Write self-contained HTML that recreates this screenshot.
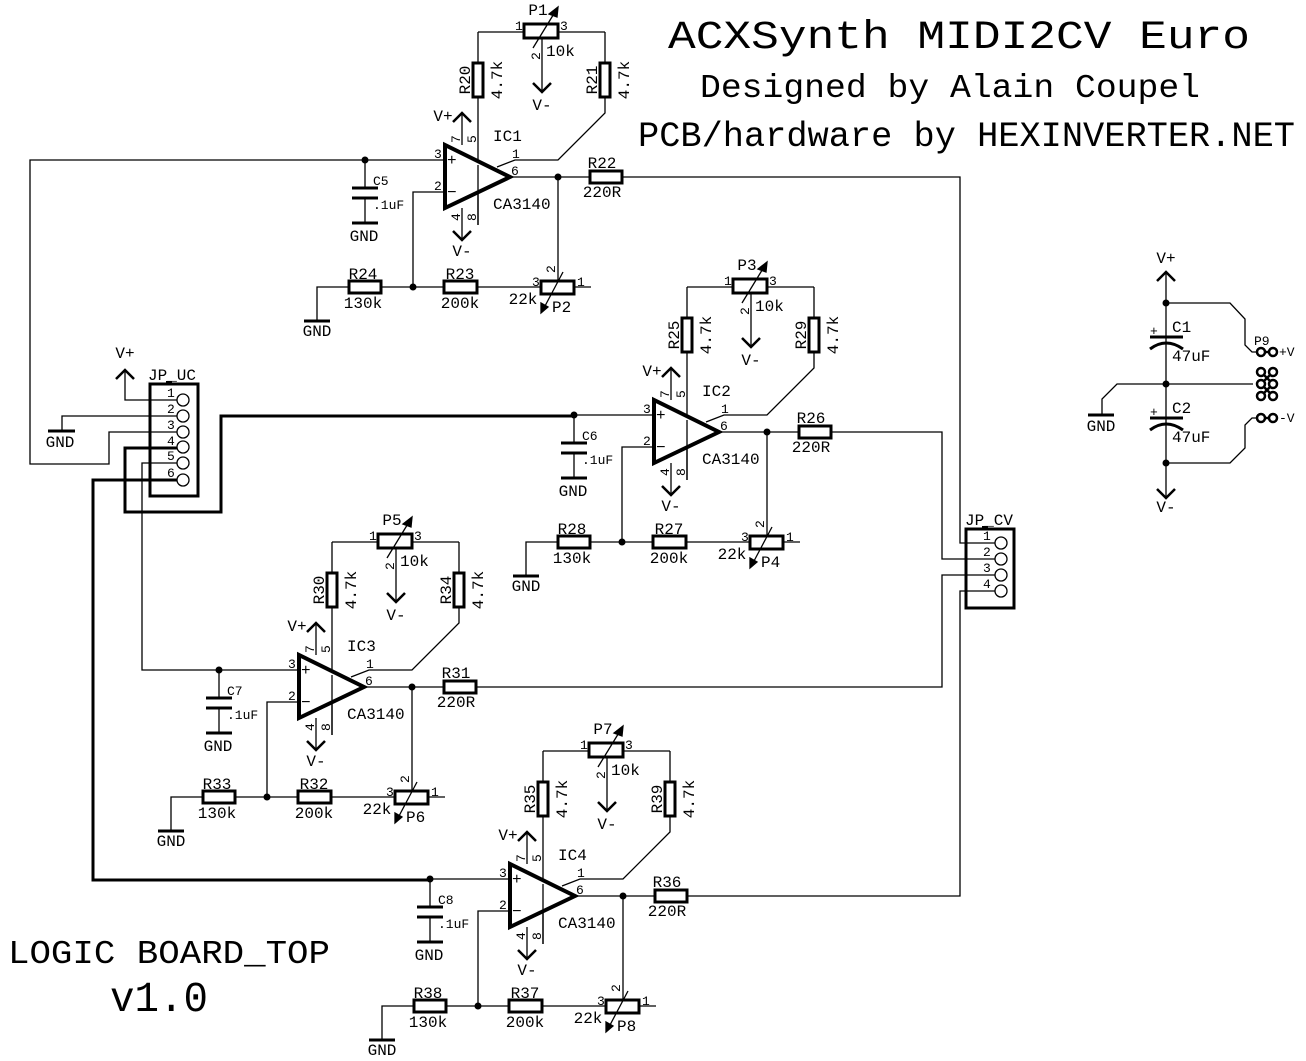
<!DOCTYPE html>
<html><head><meta charset="utf-8"><style>
html,body{margin:0;padding:0;background:#fff;}
svg{display:block;}
text{font-family:"Liberation Mono",monospace;fill:#000;}
.s{font-size:16px;}
.p{font-size:13px;}
.c{text-anchor:middle;}
</style></head><body>
<svg width="1306" height="1061" viewBox="0 0 1306 1061" xmlns="http://www.w3.org/2000/svg">
<defs>
<g id="stage" fill="none" stroke="#000" stroke-width="1.3">
  <line x1="478" y1="32" x2="605" y2="32"/>
  <rect x="524" y="24" width="34" height="14" fill="#fff" stroke-width="3"/>
  <line x1="533" y1="48" x2="555" y2="12"/>
  <polygon points="558,7 549,14 557,17" fill="#000"/>
  <line x1="542" y1="38" x2="542" y2="92"/>
  <polyline points="533,83 542,92 551,83" stroke-width="2.5"/>
  <line x1="478" y1="32" x2="478" y2="225"/>
  <rect x="473" y="63" width="10" height="34" fill="#fff" stroke-width="3"/>
  <polyline points="605,32 605,113 558,160 515,160 497,167"/>
  <rect x="600" y="63" width="10" height="34" fill="#fff" stroke-width="3"/>
  <line x1="462" y1="145" x2="462" y2="113"/>
  <polyline points="453,122 462,113 471,122" stroke-width="2.5"/>
  <line x1="462" y1="208" x2="462" y2="240"/>
  <polyline points="453,231 462,240 471,231" stroke-width="2.5"/>
  <polygon points="445,145 445,208 510,177" stroke-width="4" fill="#fff"/>
  <line x1="478" y1="165" x2="478" y2="225"/>
  <line x1="365" y1="160" x2="445" y2="160"/>
  <polyline points="445,192 413,192 413,287"/>
  <line x1="510" y1="177" x2="590" y2="177"/>
  <rect x="590" y="171" width="32" height="12" stroke-width="3"/>
  <line x1="558" y1="177" x2="558" y2="281"/>
  <polyline points="317,320 317,287 591,287"/>
  <line x1="304" y1="321" x2="330" y2="321" stroke-width="3"/>
  <rect x="349" y="281" width="32" height="12" fill="#fff" stroke-width="3"/>
  <rect x="444" y="281" width="33" height="12" fill="#fff" stroke-width="3"/>
  <rect x="541" y="281" width="33" height="13" fill="#fff" stroke-width="3"/>
  <line x1="563" y1="272" x2="545" y2="306"/>
  <polygon points="541,313 541,303 548,307" fill="#000"/>
  <line x1="365" y1="160" x2="365" y2="187"/>
  <line x1="352" y1="188" x2="378" y2="188" stroke-width="3"/>
  <line x1="352" y1="198" x2="378" y2="198" stroke-width="3"/>
  <line x1="365" y1="198" x2="365" y2="222"/>
  <line x1="352" y1="223" x2="378" y2="223" stroke-width="3"/>
  <circle cx="365" cy="160" r="3.5" fill="#000" stroke="none"/>
  <circle cx="558" cy="177" r="3.5" fill="#000" stroke="none"/>
  <circle cx="413" cy="287" r="3.5" fill="#000" stroke="none"/>
</g>
</defs>

<use href="#stage"/>
<use href="#stage" transform="translate(209,255)"/>
<use href="#stage" transform="translate(-146,510)"/>
<use href="#stage" transform="translate(65,719)"/>

<g>
<text class="s c" x="538" y="15">P1</text>
<text class="p" x="515" y="30">1</text><text class="p" x="560" y="30">3</text>
<text class="p" transform="translate(540,60) rotate(-90)">2</text>
<text class="s" x="546" y="56">10k</text>
<text class="s c" x="542" y="110">V-</text>
<text class="s c" transform="translate(470,80) rotate(-90)">R20</text>
<text class="s c" transform="translate(502,80) rotate(-90)">4.7k</text>
<text class="s c" transform="translate(597,80) rotate(-90)">R21</text>
<text class="s c" transform="translate(629,80) rotate(-90)">4.7k</text>
<text class="s c" x="443" y="121">V+</text>
<text class="p" transform="translate(460,143) rotate(-90)">7</text>
<text class="p" transform="translate(476,143) rotate(-90)">5</text>
<text class="s" x="493" y="141">IC1</text>
<text class="p" x="512" y="158">1</text><text class="p" x="511" y="175">6</text>
<text class="p" x="434" y="158">3</text><text class="p" x="434" y="190">2</text>
<text class="s" x="447" y="165">+</text><text class="s" x="447" y="197">−</text>
<text class="p" transform="translate(460,221) rotate(-90)">4</text>
<text class="p" transform="translate(476,221) rotate(-90)">8</text>
<text class="s c" x="462" y="256">V-</text>
<text class="s" x="493" y="209">CA3140</text>
<text class="p" x="373" y="185">C5</text><text class="p" x="373" y="209">.1uF</text>
<text class="s c" x="364" y="241">GND</text>
<text class="s c" x="602" y="168">R22</text><text class="s c" x="602" y="197">220R</text>
<text class="s c" x="363" y="279">R24</text><text class="s c" x="363" y="308">130k</text>
<text class="s c" x="460" y="279">R23</text><text class="s c" x="460" y="308">200k</text>
<text class="p" transform="translate(555,273) rotate(-90)">2</text>
<text class="p" x="532" y="286">3</text><text class="p" x="577" y="286">1</text>
<text class="s c" x="523" y="304">22k</text><text class="s" x="552" y="312">P2</text>
<text class="s c" x="317" y="336">GND</text>
</g>
<g transform="translate(209,255)">
<text class="s c" x="538" y="15">P3</text>
<text class="p" x="515" y="30">1</text><text class="p" x="560" y="30">3</text>
<text class="p" transform="translate(540,60) rotate(-90)">2</text>
<text class="s" x="546" y="56">10k</text>
<text class="s c" x="542" y="110">V-</text>
<text class="s c" transform="translate(470,80) rotate(-90)">R25</text>
<text class="s c" transform="translate(502,80) rotate(-90)">4.7k</text>
<text class="s c" transform="translate(597,80) rotate(-90)">R29</text>
<text class="s c" transform="translate(629,80) rotate(-90)">4.7k</text>
<text class="s c" x="443" y="121">V+</text>
<text class="p" transform="translate(460,143) rotate(-90)">7</text>
<text class="p" transform="translate(476,143) rotate(-90)">5</text>
<text class="s" x="493" y="141">IC2</text>
<text class="p" x="512" y="158">1</text><text class="p" x="511" y="175">6</text>
<text class="p" x="434" y="158">3</text><text class="p" x="434" y="190">2</text>
<text class="s" x="447" y="165">+</text><text class="s" x="447" y="197">−</text>
<text class="p" transform="translate(460,221) rotate(-90)">4</text>
<text class="p" transform="translate(476,221) rotate(-90)">8</text>
<text class="s c" x="462" y="256">V-</text>
<text class="s" x="493" y="209">CA3140</text>
<text class="p" x="373" y="185">C6</text><text class="p" x="373" y="209">.1uF</text>
<text class="s c" x="364" y="241">GND</text>
<text class="s c" x="602" y="168">R26</text><text class="s c" x="602" y="197">220R</text>
<text class="s c" x="363" y="279">R28</text><text class="s c" x="363" y="308">130k</text>
<text class="s c" x="460" y="279">R27</text><text class="s c" x="460" y="308">200k</text>
<text class="p" transform="translate(555,273) rotate(-90)">2</text>
<text class="p" x="532" y="286">3</text><text class="p" x="577" y="286">1</text>
<text class="s c" x="523" y="304">22k</text><text class="s" x="552" y="312">P4</text>
<text class="s c" x="317" y="336">GND</text>
</g>
<g transform="translate(-146,510)">
<text class="s c" x="538" y="15">P5</text>
<text class="p" x="515" y="30">1</text><text class="p" x="560" y="30">3</text>
<text class="p" transform="translate(540,60) rotate(-90)">2</text>
<text class="s" x="546" y="56">10k</text>
<text class="s c" x="542" y="110">V-</text>
<text class="s c" transform="translate(470,80) rotate(-90)">R30</text>
<text class="s c" transform="translate(502,80) rotate(-90)">4.7k</text>
<text class="s c" transform="translate(597,80) rotate(-90)">R34</text>
<text class="s c" transform="translate(629,80) rotate(-90)">4.7k</text>
<text class="s c" x="443" y="121">V+</text>
<text class="p" transform="translate(460,143) rotate(-90)">7</text>
<text class="p" transform="translate(476,143) rotate(-90)">5</text>
<text class="s" x="493" y="141">IC3</text>
<text class="p" x="512" y="158">1</text><text class="p" x="511" y="175">6</text>
<text class="p" x="434" y="158">3</text><text class="p" x="434" y="190">2</text>
<text class="s" x="447" y="165">+</text><text class="s" x="447" y="197">−</text>
<text class="p" transform="translate(460,221) rotate(-90)">4</text>
<text class="p" transform="translate(476,221) rotate(-90)">8</text>
<text class="s c" x="462" y="256">V-</text>
<text class="s" x="493" y="209">CA3140</text>
<text class="p" x="373" y="185">C7</text><text class="p" x="373" y="209">.1uF</text>
<text class="s c" x="364" y="241">GND</text>
<text class="s c" x="602" y="168">R31</text><text class="s c" x="602" y="197">220R</text>
<text class="s c" x="363" y="279">R33</text><text class="s c" x="363" y="308">130k</text>
<text class="s c" x="460" y="279">R32</text><text class="s c" x="460" y="308">200k</text>
<text class="p" transform="translate(555,273) rotate(-90)">2</text>
<text class="p" x="532" y="286">3</text><text class="p" x="577" y="286">1</text>
<text class="s c" x="523" y="304">22k</text><text class="s" x="552" y="312">P6</text>
<text class="s c" x="317" y="336">GND</text>
</g>
<g transform="translate(65,719)">
<text class="s c" x="538" y="15">P7</text>
<text class="p" x="515" y="30">1</text><text class="p" x="560" y="30">3</text>
<text class="p" transform="translate(540,60) rotate(-90)">2</text>
<text class="s" x="546" y="56">10k</text>
<text class="s c" x="542" y="110">V-</text>
<text class="s c" transform="translate(470,80) rotate(-90)">R35</text>
<text class="s c" transform="translate(502,80) rotate(-90)">4.7k</text>
<text class="s c" transform="translate(597,80) rotate(-90)">R39</text>
<text class="s c" transform="translate(629,80) rotate(-90)">4.7k</text>
<text class="s c" x="443" y="121">V+</text>
<text class="p" transform="translate(460,143) rotate(-90)">7</text>
<text class="p" transform="translate(476,143) rotate(-90)">5</text>
<text class="s" x="493" y="141">IC4</text>
<text class="p" x="512" y="158">1</text><text class="p" x="511" y="175">6</text>
<text class="p" x="434" y="158">3</text><text class="p" x="434" y="190">2</text>
<text class="s" x="447" y="165">+</text><text class="s" x="447" y="197">−</text>
<text class="p" transform="translate(460,221) rotate(-90)">4</text>
<text class="p" transform="translate(476,221) rotate(-90)">8</text>
<text class="s c" x="462" y="256">V-</text>
<text class="s" x="493" y="209">CA3140</text>
<text class="p" x="373" y="185">C8</text><text class="p" x="373" y="209">.1uF</text>
<text class="s c" x="364" y="241">GND</text>
<text class="s c" x="602" y="168">R36</text><text class="s c" x="602" y="197">220R</text>
<text class="s c" x="363" y="279">R38</text><text class="s c" x="363" y="308">130k</text>
<text class="s c" x="460" y="279">R37</text><text class="s c" x="460" y="308">200k</text>
<text class="p" transform="translate(555,273) rotate(-90)">2</text>
<text class="p" x="532" y="286">3</text><text class="p" x="577" y="286">1</text>
<text class="s c" x="523" y="304">22k</text><text class="s" x="552" y="312">P8</text>
<text class="s c" x="317" y="336">GND</text>
</g>

<g fill="none" stroke="#000" stroke-width="1.3">
  <polyline points="365,160 30,160 30,464 109,464 109,432 177,432"/>
  <polyline points="622,177 960,177 960,543 995,543"/>
  <polyline points="831,432 942,432 942,559 995,559"/>
  <polyline points="476,687 942,687 942,575 995,575"/>
  <polyline points="687,896 960,896 960,591 995,591"/>
  <polyline points="177,463 142,463 142,670 219,670"/>
  <polyline points="177,400 125,400 125,370"/>
  <polyline points="116,379 125,370 134,379" stroke-width="2.5"/>
  <polyline points="177,416 62,416 62,430"/>
  <line x1="48" y1="431" x2="75" y2="431" stroke-width="3"/>
</g>
<g fill="none" stroke="#000" stroke-width="3">
  <polyline points="177,448 125,448 125,512 221,512 221,416 574,416"/>
  <polyline points="177,480 93,480 93,880 430,880"/>
</g>
<rect x="150" y="384" width="48" height="112" fill="none" stroke="#000" stroke-width="3"/>
<rect x="166" y="381" width="6" height="3" fill="#000"/>
<g fill="#fff" stroke="#000" stroke-width="1.3">
  <circle cx="183" cy="400" r="6"/><circle cx="183" cy="416" r="6"/><circle cx="183" cy="432" r="6"/>
  <circle cx="183" cy="447" r="6"/><circle cx="183" cy="463" r="6"/><circle cx="183" cy="480" r="6"/>
</g>
<text class="p" x="167" y="397">1</text><text class="p" x="167" y="413">2</text><text class="p" x="167" y="429">3</text>
<text class="p" x="167" y="445">4</text><text class="p" x="167" y="460">5</text><text class="p" x="167" y="477">6</text>
<text class="s" x="148" y="380">JP_UC</text>
<text class="s c" x="125" y="358">V+</text>
<text class="s c" x="60" y="447">GND</text>
<rect x="966" y="529" width="48" height="79" fill="none" stroke="#000" stroke-width="3"/>
<rect x="982" y="526" width="6" height="3" fill="#000"/>
<g fill="#fff" stroke="#000" stroke-width="1.3">
  <circle cx="1001" cy="543" r="6"/><circle cx="1001" cy="559" r="6"/><circle cx="1001" cy="575" r="6"/><circle cx="1001" cy="591" r="6"/>
</g>
<text class="p" x="983" y="540">1</text><text class="p" x="983" y="556">2</text><text class="p" x="983" y="572">3</text><text class="p" x="983" y="588">4</text>
<text class="s" x="965" y="525">JP_CV</text>

<g fill="none" stroke="#000" stroke-width="1.3">
  <line x1="1166" y1="272" x2="1166" y2="498"/>
  <polyline points="1157,281 1166,272 1175,281" stroke-width="2.5"/>
  <polyline points="1157,489 1166,498 1175,489" stroke-width="2.5"/>
  <polyline points="1166,303 1230,303 1245,319 1245,345 1252,352 1257,352"/>
  <polyline points="1166,463 1230,463 1245,448 1245,425 1252,418 1257,418"/>
  <polyline points="1253,384 1117,384 1102,399 1102,414"/>
  <line x1="1088" y1="415" x2="1114" y2="415" stroke-width="3"/>
  <line x1="1150" y1="337" x2="1183" y2="337" stroke-width="3"/>
  <path d="M1150,349 Q1166,337 1183,349" stroke-width="3"/>
  <line x1="1150" y1="418" x2="1183" y2="418" stroke-width="3"/>
  <path d="M1150,430 Q1166,418 1183,430" stroke-width="3"/>
  <g stroke-width="2.5">
  <circle cx="1261" cy="352" r="4"/><circle cx="1273" cy="352" r="4"/>
  <circle cx="1261" cy="418" r="4"/><circle cx="1273" cy="418" r="4"/>
  <circle cx="1261" cy="372" r="4"/><circle cx="1273" cy="372" r="4"/>
  <circle cx="1261" cy="384" r="4"/><circle cx="1273" cy="384" r="4"/>
  <circle cx="1261" cy="396" r="4"/><circle cx="1273" cy="396" r="4"/>
  <line x1="1265" y1="352" x2="1269" y2="352"/><line x1="1265" y1="418" x2="1269" y2="418"/>
  <line x1="1264" y1="375" x2="1270" y2="381"/><line x1="1270" y1="375" x2="1264" y2="381"/>
  <line x1="1264" y1="387" x2="1270" y2="393"/><line x1="1270" y1="387" x2="1264" y2="393"/>
  </g>
</g>
<g fill="#000">
  <circle cx="1166" cy="303" r="3.5"/><circle cx="1166" cy="384" r="3.5"/><circle cx="1166" cy="463" r="3.5"/>
</g>
<text class="s c" x="1166" y="263">V+</text>
<text class="s c" x="1166" y="512">V-</text>
<text class="p" x="1150" y="335">+</text>
<text class="p" x="1150" y="416">+</text>
<text class="s" x="1172" y="332">C1</text>
<text class="s" x="1172" y="361">47uF</text>
<text class="s" x="1172" y="413">C2</text>
<text class="s" x="1172" y="442">47uF</text>
<text class="p" x="1254" y="345">P9</text>
<text class="p" x="1279" y="356">+V</text>
<text class="p" x="1279" y="422">-V</text>
<text class="s c" x="1101" y="431">GND</text>

<text x="668" y="48" style="font-size:40px" textLength="582" lengthAdjust="spacingAndGlyphs">ACXSynth MIDI2CV Euro</text>
<text x="700" y="97" style="font-size:33px" textLength="500" lengthAdjust="spacingAndGlyphs">Designed by Alain Coupel</text>
<text x="638" y="146" style="font-size:35px" textLength="657" lengthAdjust="spacingAndGlyphs">PCB/hardware by HEXINVERTER.NET</text>
<text x="8" y="963" style="font-size:33px" textLength="322" lengthAdjust="spacingAndGlyphs">LOGIC BOARD_TOP</text>
<text x="110" y="1011" style="font-size:43px" textLength="98" lengthAdjust="spacingAndGlyphs">v1.0</text>
</svg>
</body></html>
